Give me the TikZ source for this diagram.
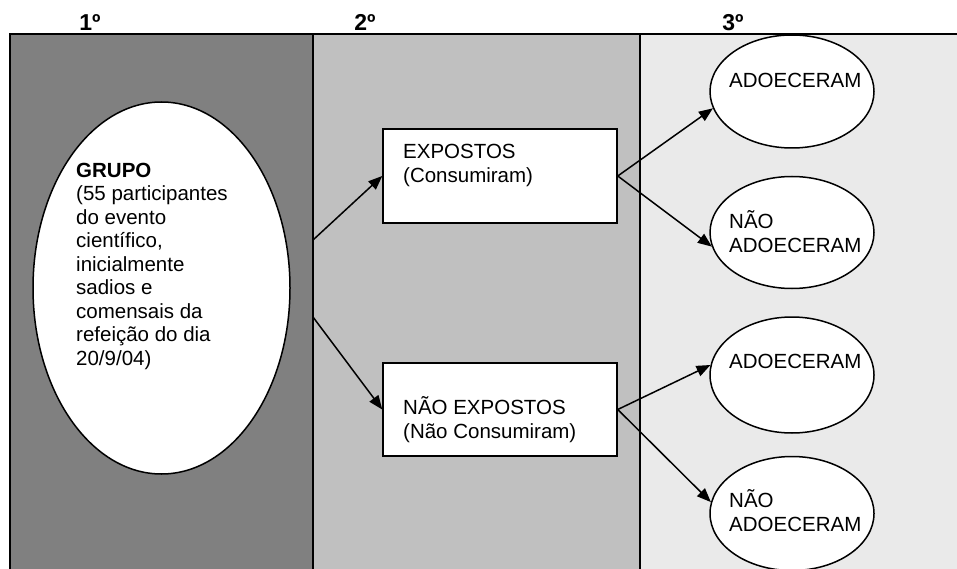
\documentclass[tikz,border=0pt]{standalone}
\usepackage{fontspec}
\setmainfont{Liberation Sans}
\usetikzlibrary{arrows.meta,shapes.geometric}
\definecolor{colA}{HTML}{808080}
\definecolor{colB}{HTML}{C0C0C0}
\definecolor{colC}{HTML}{EAEAEA}
\begin{document}
\begin{tikzpicture}[x=1pt,y=-1pt,
  body/.style={font=\fontsize{20.5}{23.5}\selectfont, inner sep=0pt, align=left, anchor=base west},
  hdr/.style={font=\fontsize{23}{26}\selectfont\bfseries, inner sep=0pt, anchor=base},
  oval/.style={ellipse, draw, line width=1.5pt, fill=white, inner sep=0pt},
  boxnode/.style={rectangle, draw, line width=1.5pt, fill=white, inner sep=0pt},
  border/.style={line width=1.5pt},
  conn/.style={line width=1.5pt, -{Triangle[length=14pt,width=11pt]}}]
\useasboundingbox (0,0) rectangle (957,569);
% columns
\fill[colA] (10,34) rectangle (313,569);
\fill[colB] (313,34) rectangle (640,569);
\fill[colC] (640,34) rectangle (957,569);
\draw[border] (957,34) -- (10,34) -- (10,569);
\draw[border] (313,34) -- (313,569);
\draw[border] (640,34) -- (640,569);
% headers
\node[hdr] (h1) at (90,31) {1º};
\node[hdr] (h2) at (365,31) {2º};
\node[hdr] (h3) at (733,31) {3º};
% group ellipse
\node[oval, minimum width=257pt, minimum height=372pt] (grupo) at (161.5,288) {};
\node[body] (grupotxt) at (76,365) {\textbf{GRUPO}\\(55 participantes\\do evento\\científico,\\inicialmente\\sadios e\\comensais da\\refeição do dia\\20/9/04)};
% boxes
\node[boxnode, minimum width=234pt, minimum height=94pt] (exp) at (500,176) {};
\node[body] (exptxt) at (403,182.5) {EXPOSTOS\\(Consumiram)};
\node[boxnode, minimum width=234pt, minimum height=93pt] (nexp) at (500,409.5) {};
\node[body] (nexptxt) at (403,438) {NÃO EXPOSTOS\\(Não Consumiram)};
% outcome ellipses
\node[oval, minimum width=164pt, minimum height=113pt] (e1) at (792,91.5) {};
\node[body] (e1txt) at (729,88) {ADOECERAM};
\node[oval, minimum width=164pt, minimum height=112pt] (e2) at (792,232.5) {};
\node[body] (e2txt) at (729,252) {NÃO\\ADOECERAM};
\node[oval, minimum width=164pt, minimum height=116pt] (e3) at (792,375) {};
\node[body] (e3txt) at (729,368) {ADOECERAM};
\node[oval, minimum width=164pt, minimum height=114pt] (e4) at (792,513.5) {};
\node[body] (e4txt) at (729,531) {NÃO\\ADOECERAM};
% connectors
\coordinate (s1) at (313,240);
\coordinate (s2) at (313,317);
\draw[conn] (s1) -- (exp.west);
\draw[conn] (s2) -- (nexp.west);
\draw[conn] (exp.east) -- (e1.192);
\draw[conn] (exp.east) -- (e2.190);
\draw[conn] (nexp.east) -- (e3.173);
\draw[conn] (nexp.east) -- (e4.172);
\end{tikzpicture}
\end{document}
